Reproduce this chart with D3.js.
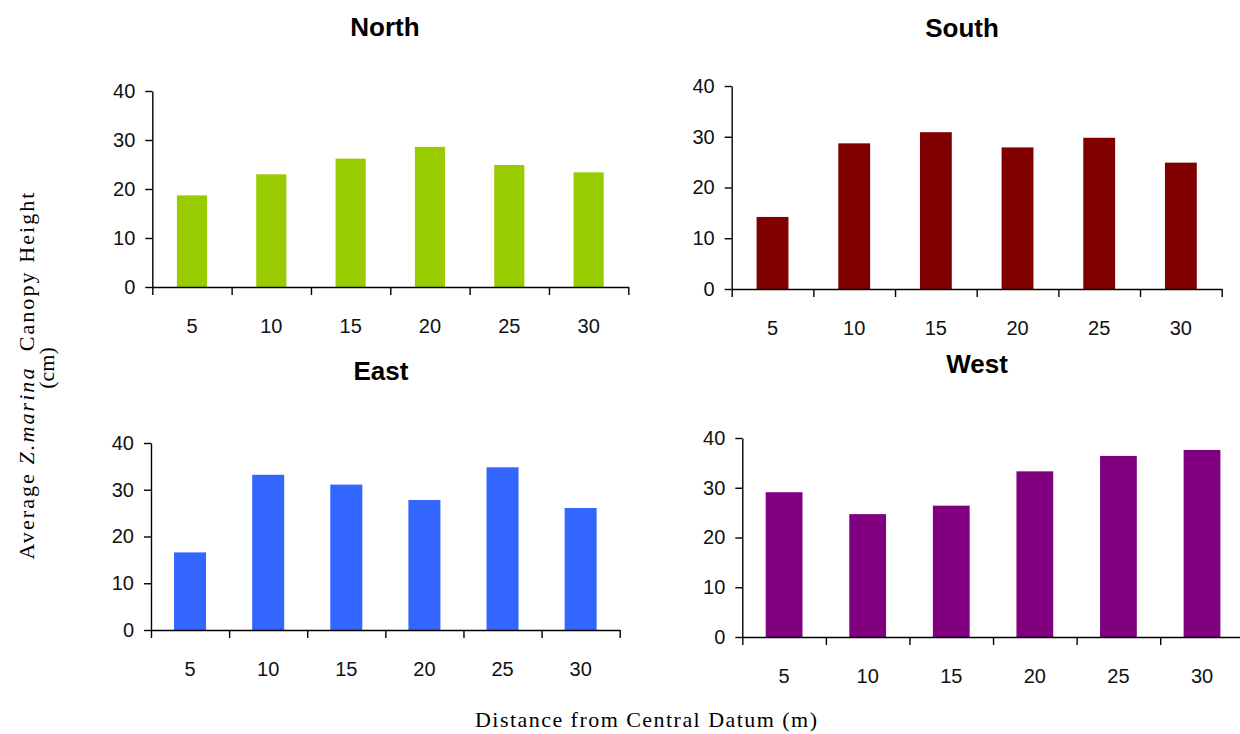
<!DOCTYPE html>
<html>
<head>
<meta charset="utf-8">
<script src="https://cdn.jsdelivr.net/npm/d3@7"></script>
<style>
  html, body { margin: 0; padding: 0; background: #fff; }
  svg { display: block; }
</style>
</head>
<body>
<svg id="chart" width="1240" height="734"></svg>
<script>
// ---- data ----
const distances = ["5", "10", "15", "20", "25", "30"];
const northValues = [18.7, 23.0, 26.2, 28.6, 24.9, 23.4];
const southValues = [14.2, 28.7, 30.9, 27.9, 29.8, 24.9];
const eastValues  = [16.6, 33.2, 31.1, 27.8, 34.8, 26.1];
const westValues  = [29.1, 24.7, 26.4, 33.3, 36.4, 37.6];
const yTicks = [0, 10, 20, 30, 40];
const panelTitles = ["North", "South", "East", "West"];
const yTitleMain = ["Average ", "Z.marina", "  Canopy Height"];
const yTitleUnit = "(cm)";
const xTitle = "Distance from Central Datum (m)";

// ---- layout ----
const layout = [
  { values: northValues, color: "#99CC00", x0: 152.3, x1: 628.3, top: 91,  zero: 287, pad: 0.62, tx: 385, ty: 36 },
  { values: southValues, color: "#800000", x0: 731.7, x1: 1221.7, top: 86, zero: 289, pad: 0.61, tx: 962, ty: 37 },
  { values: eastValues,  color: "#3366FF", x0: 151,   x1: 619.7, top: 443, zero: 630, pad: 0.59, tx: 381, ty: 380 },
  { values: westValues,  color: "#800080", x0: 742.3, x1: 1243.8, top: 438, zero: 637, pad: 0.56, tx: 977, ty: 373 }
];

const svg = d3.select("#chart");
const tickFont = "'Liberation Sans', Arial, sans-serif";

layout.forEach((p, i) => {
  const g = svg.append("g");
  const x = d3.scaleBand().domain(distances).range([p.x0, p.x1])
    .paddingInner(p.pad).paddingOuter(p.pad / 2);
  const y = d3.scaleLinear().domain([0, 40]).range([p.zero, p.top]);
  const bounds = d3.scaleLinear().domain([0, distances.length]).range([p.x0, p.x1]);

  // bars
  g.selectAll("rect.bar").data(p.values).join("rect")
    .attr("class", "bar")
    .attr("x", (d, j) => x(distances[j]))
    .attr("width", x.bandwidth())
    .attr("y", d => y(d))
    .attr("height", d => y(0) - y(d))
    .attr("fill", p.color);

  // y axis
  const ya = g.append("g").attr("transform", `translate(${p.x0},0)`)
    .call(d3.axisLeft(y).tickValues(yTicks).tickSize(7).tickSizeOuter(0).tickPadding(10));
  ya.select(".domain").attr("stroke", "#000").attr("stroke-width", 1.4);
  ya.selectAll(".tick line").attr("stroke", "#000").attr("stroke-width", 1.4);
  ya.selectAll(".tick text").attr("font-family", tickFont).attr("font-size", 20).attr("fill", "#111");

  // x axis: boundary ticks
  const xb = g.append("g").attr("transform", `translate(0,${p.zero})`)
    .call(d3.axisBottom(bounds).tickValues(d3.range(distances.length + 1)).tickFormat("").tickSize(8).tickSizeOuter(0));
  xb.select(".domain").attr("stroke", "#000").attr("stroke-width", 1.4);
  xb.selectAll(".tick line").attr("stroke", "#000").attr("stroke-width", 1.4);

  // x axis: category labels
  const xl = g.append("g").attr("transform", `translate(0,${p.zero})`)
    .call(d3.axisBottom(x).tickSize(0).tickPadding(32));
  xl.select(".domain").remove();
  xl.selectAll(".tick text").attr("font-family", tickFont).attr("font-size", 20).attr("fill", "#111");

  // title
  svg.append("text")
    .attr("x", p.tx).attr("y", p.ty)
    .attr("text-anchor", "middle")
    .attr("font-family", tickFont)
    .attr("font-weight", "bold")
    .attr("font-size", 26)
    .text(panelTitles[i]);
});

// y axis title (rotated)
const serif = "'Liberation Serif', 'Times New Roman', serif";
const yt = svg.append("text")
  .attr("transform", "translate(34,376) rotate(-90)")
  .attr("text-anchor", "middle")
  .attr("font-family", serif)
  .attr("font-size", 22)
  .attr("textLength", 367)
  .attr("lengthAdjust", "spacing")
  .attr("xml:space", "preserve")
  .style("white-space", "pre");
yTitleMain.forEach((s, k) => {
  yt.append("tspan").attr("font-style", k === 1 ? "italic" : "normal").text(s);
});
svg.append("text")
  .attr("transform", "translate(54,368) rotate(-90)")
  .attr("text-anchor", "middle")
  .attr("font-family", serif)
  .attr("font-size", 22)
  .text(yTitleUnit);

// x axis title
svg.append("text")
  .attr("x", 646).attr("y", 727)
  .attr("text-anchor", "middle")
  .attr("font-family", serif)
  .attr("font-size", 22)
  .attr("textLength", 342)
  .attr("lengthAdjust", "spacing")
  .text(xTitle);
</script>
</body>
</html>
